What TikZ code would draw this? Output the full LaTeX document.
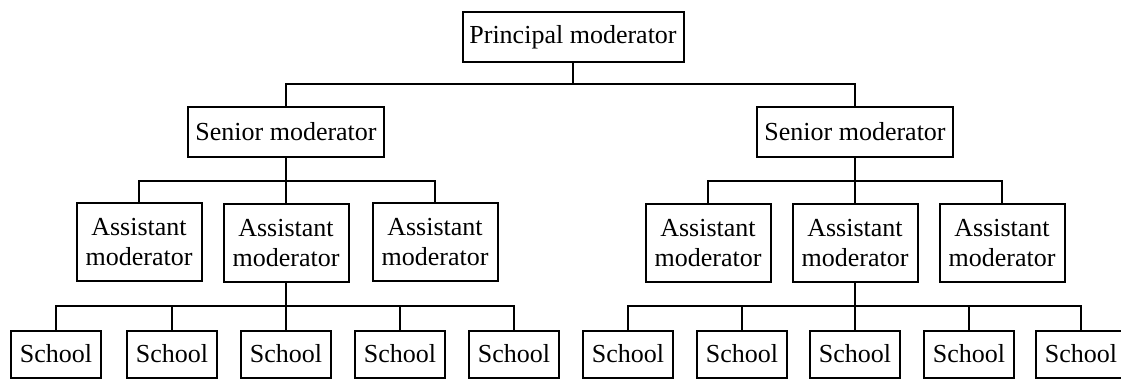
\documentclass[tikz,border=0pt]{standalone}
\usepackage{fontspec}
\setmainfont{Liberation Serif}

\begin{document}
\begin{tikzpicture}[x=0.5pt,y=-0.5pt,
  box/.style={draw,line width=1pt,inner sep=0pt,align=center,font=\fontsize{13}{15}\selectfont},
  prinbox/.style={box,minimum width=110.5pt,minimum height=25pt},
  seniorbox/.style={box,minimum width=98pt,minimum height=25pt},
  assistbox/.style={box,minimum width=62.5pt,minimum height=39pt},
  schoolbox/.style={box,minimum width=45pt,minimum height=23.5pt},
  link/.style={line width=1.3pt}]
\useasboundingbox (0,0) rectangle (1121,380);
\node[prinbox] (prin) at (573,37) {Principal moderator};
\node[seniorbox] (senL) at (286,132) {Senior moderator};
\node[seniorbox] (senR) at (855,132) {Senior moderator};
\node[assistbox] (asL1) at (139,242) {Assistant\\moderator};
\node[assistbox] (asL2) at (286,243) {Assistant\\moderator};
\node[assistbox] (asL3) at (435,242) {Assistant\\moderator};
\node[assistbox] (asR1) at (708,243) {Assistant\\moderator};
\node[assistbox] (asR2) at (855,243) {Assistant\\moderator};
\node[assistbox] (asR3) at (1002,243) {Assistant\\moderator};
\node[schoolbox] (scL1) at (56,354) {School};
\node[schoolbox] (scL2) at (172,354) {School};
\node[schoolbox] (scL3) at (286,354) {School};
\node[schoolbox] (scL4) at (400,354) {School};
\node[schoolbox] (scL5) at (514,354) {School};
\node[schoolbox] (scR1) at (628,354) {School};
\node[schoolbox] (scR2) at (742,354) {School};
\node[schoolbox] (scR3) at (855,354) {School};
\node[schoolbox] (scR4) at (969,354) {School};
\node[schoolbox] (scR5) at (1081,354) {School};
\coordinate (top) at (573,84);
\coordinate (midL) at (286,181);
\coordinate (midR) at (855,181);
\coordinate (lowL) at (286,306);
\coordinate (lowR) at (855,306);
\draw[link] (prin) -- (top);
\draw[link] (senL.north) |- (top) -| (senR.north);
\draw[link] (senL) -- (asL2);
\draw[link] (asL1.north) |- (midL) -| (asL3.north);
\draw[link] (senR) -- (asR2);
\draw[link] (asR1.north) |- (midR) -| (asR3.north);
\draw[link] (asL2) -- (scL3);
\draw[link] (scL1.north) |- (lowL) -| (scL5.north);
\draw[link] (scL2.north) |- (lowL);
\draw[link] (scL4.north) |- (lowL);
\draw[link] (asR2) -- (scR3);
\draw[link] (scR1.north) |- (lowR) -| (scR5.north);
\draw[link] (scR2.north) |- (lowR);
\draw[link] (scR4.north) |- (lowR);
\end{tikzpicture}
\end{document}
